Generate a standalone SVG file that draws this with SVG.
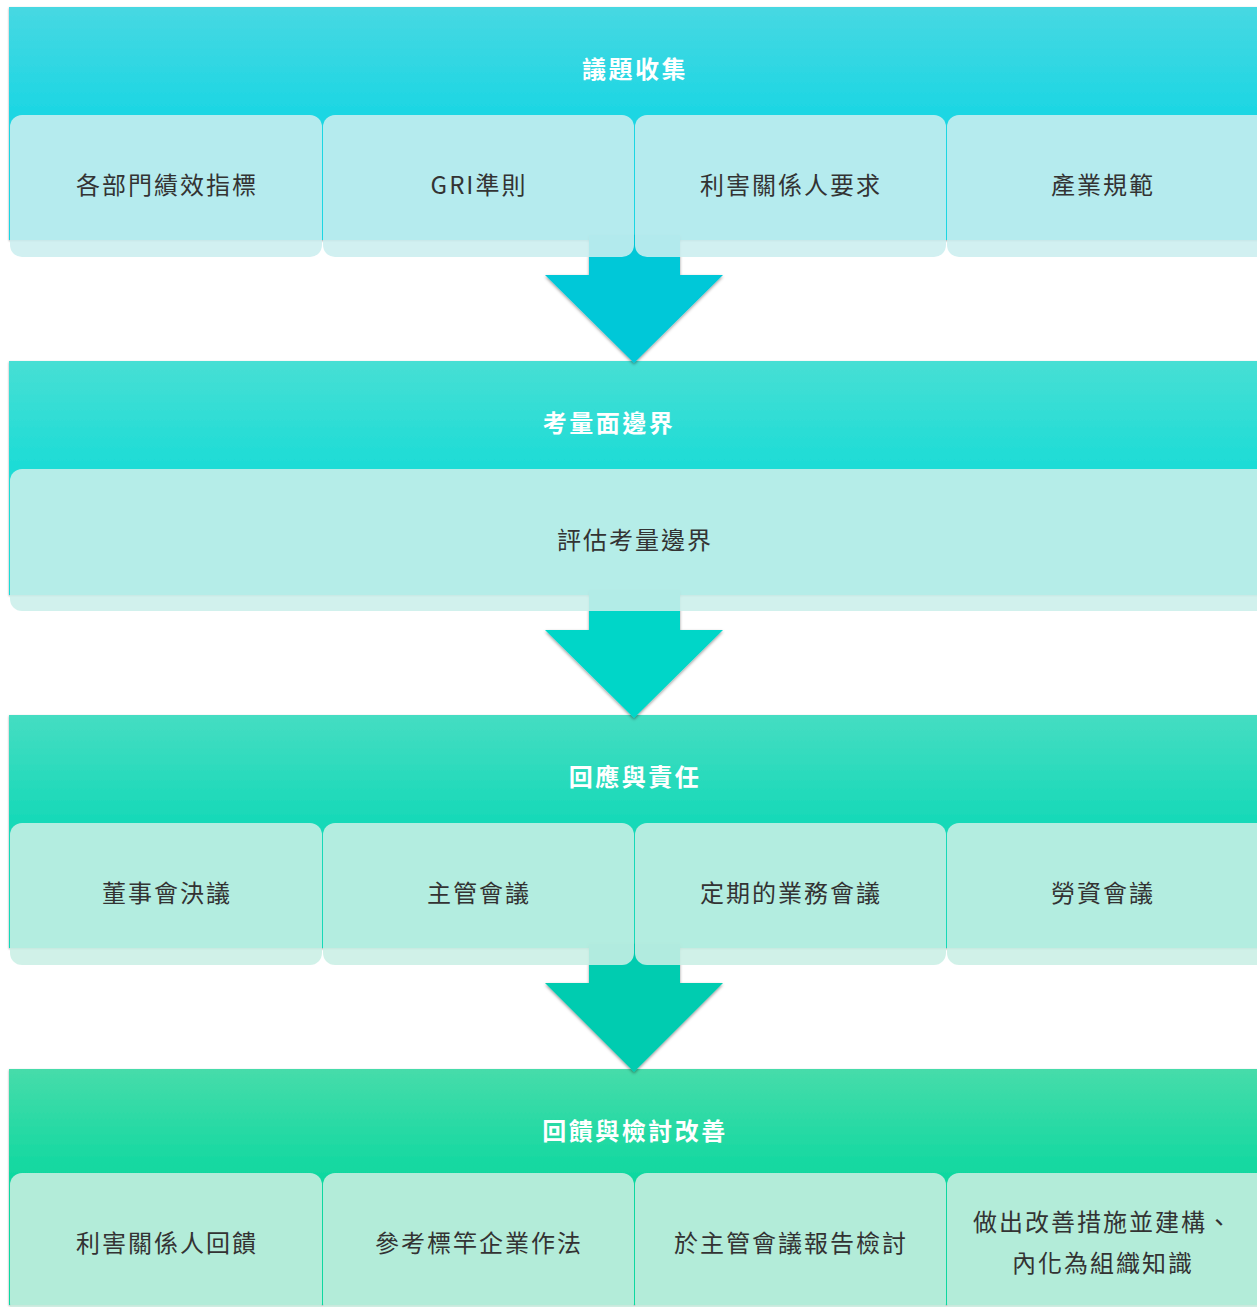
<svg xmlns="http://www.w3.org/2000/svg" width="1257" height="1307" viewBox="0 0 1257 1307">
<defs>
<linearGradient id="g1" x1="0" y1="0" x2="0" y2="1"><stop offset="0" stop-color="#47d8e2"/><stop offset="0.45" stop-color="#1dd6e3"/><stop offset="1" stop-color="#1dd6e3"/></linearGradient>
<linearGradient id="g2" x1="0" y1="0" x2="0" y2="1"><stop offset="0" stop-color="#47dfd4"/><stop offset="0.45" stop-color="#1ddcd6"/><stop offset="1" stop-color="#1ddcd6"/></linearGradient>
<linearGradient id="g3" x1="0" y1="0" x2="0" y2="1"><stop offset="0" stop-color="#45ddc2"/><stop offset="0.45" stop-color="#17d9b8"/><stop offset="1" stop-color="#17d9b8"/></linearGradient>
<linearGradient id="g4" x1="0" y1="0" x2="0" y2="1"><stop offset="0" stop-color="#46dcaa"/><stop offset="0.45" stop-color="#10d8a0"/><stop offset="1" stop-color="#10d8a0"/></linearGradient>
<filter id="hs" x="-5%" y="-5%" width="110%" height="110%"><feDropShadow dx="0" dy="1" stdDeviation="1" flood-color="#000" flood-opacity="0.35"/></filter>
<filter id="as" x="-10%" y="-10%" width="120%" height="120%"><feDropShadow dx="0" dy="1.5" stdDeviation="1.5" flood-color="#000" flood-opacity="0.4"/></filter>
<style>
.hdr{filter:url(#hs)}
.ttl{font-family:"Noto Sans CJK TC","Noto Sans CJK SC",sans-serif;font-size:24px;font-weight:bold;fill:#fff;text-anchor:middle;dominant-baseline:central;letter-spacing:2.5px}
.lbl{font-family:"Noto Sans CJK TC","Noto Sans CJK SC",sans-serif;font-size:24px;fill:#333;text-anchor:middle;dominant-baseline:central;letter-spacing:2px}
.c1{fill:#cbeeef;fill-opacity:.88}
.c2{fill:#cbefeb;fill-opacity:.88}
.c3{fill:#caefe5;fill-opacity:.88}
.c4{fill:#cbeee0;fill-opacity:.88}
.arr{filter:url(#as)}
</style>
</defs>
<rect width="1257" height="1307" fill="#fff"/>

<g id="band1">
<rect class="hdr" x="9" y="7" width="1260" height="233" fill="url(#g1)"/>
<text class="ttl" x="635" y="67">議題收集</text>
</g>
<g id="band2">
<rect class="hdr" x="9" y="361" width="1260" height="234" fill="url(#g2)"/>
<text class="ttl" x="609" y="421">考量面邊界</text>
</g>
<g id="band3">
<rect class="hdr" x="9" y="715" width="1260" height="233" fill="url(#g3)"/>
<text class="ttl" x="635" y="775">回應與責任</text>
</g>
<g id="band4">
<rect class="hdr" x="9" y="1069" width="1260" height="236" fill="url(#g4)"/>
<text class="ttl" x="635" y="1129">回饋與檢討改善</text>
</g>

<g id="connectors">
<path class="arr" d="M589,235 H680 V275 H723 L634,363 L545,275 H589 Z" fill="#00c8d8"/>
<path class="arr" d="M589,590 H680 V630 H723 L634,718 L545,630 H589 Z" fill="#00d6c8"/>
<path class="arr" d="M589,944 H680 V983 H723 L634,1072 L545,983 H589 Z" fill="#00ccb0"/>
</g>

<g id="card1a"><rect class="c1" x="10" y="115" width="312" height="142" rx="12"/><text class="lbl" x="167" y="183">各部門績效指標</text></g>
<g id="card1b"><rect class="c1" x="323" y="115" width="311" height="142" rx="12"/><text class="lbl" x="479" y="183">GRI準則</text></g>
<g id="card1c"><rect class="c1" x="635" y="115" width="311" height="142" rx="12"/><text class="lbl" x="791" y="183">利害關係人要求</text></g>
<g id="card1d"><rect class="c1" x="947" y="115" width="322" height="142" rx="12"/><text class="lbl" x="1103" y="183">產業規範</text></g>

<g id="card2a"><rect class="c2" x="10" y="469" width="1259" height="142" rx="12"/><text class="lbl" x="635" y="538">評估考量邊界</text></g>

<g id="card3a"><rect class="c3" x="10" y="823" width="312" height="142" rx="12"/><text class="lbl" x="167" y="891">董事會決議</text></g>
<g id="card3b"><rect class="c3" x="323" y="823" width="311" height="142" rx="12"/><text class="lbl" x="479" y="891">主管會議</text></g>
<g id="card3c"><rect class="c3" x="635" y="823" width="311" height="142" rx="12"/><text class="lbl" x="791" y="891">定期的業務會議</text></g>
<g id="card3d"><rect class="c3" x="947" y="823" width="322" height="142" rx="12"/><text class="lbl" x="1103" y="891">勞資會議</text></g>

<g id="card4a"><rect class="c4" x="10" y="1173" width="312" height="142" rx="12"/><text class="lbl" x="167" y="1241">利害關係人回饋</text></g>
<g id="card4b"><rect class="c4" x="323" y="1173" width="311" height="142" rx="12"/><text class="lbl" x="479" y="1241">參考標竿企業作法</text></g>
<g id="card4c"><rect class="c4" x="635" y="1173" width="311" height="142" rx="12"/><text class="lbl" x="791" y="1241">於主管會議報告檢討</text></g>
<g id="card4d"><rect class="c4" x="947" y="1173" width="322" height="142" rx="12"/><text class="lbl" x="1103" y="1220">做出改善措施並建構、</text><text class="lbl" x="1103" y="1261">內化為組織知識</text></g>
</svg>
